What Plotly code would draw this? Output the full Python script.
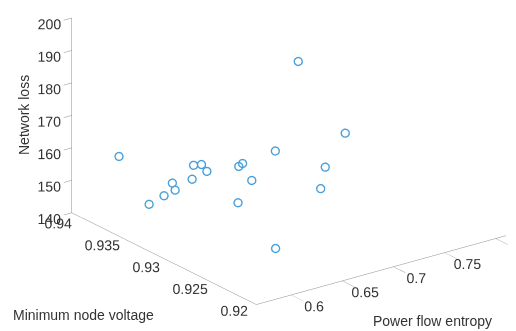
import plotly.graph_objects as go

# Data
power_flow_entropy = [0.593, 0.715, 0.736, 0.690, 0.641, 0.647, 0.654, 0.643, 0.634, 0.635,
                      0.625, 0.613, 0.668, 0.670, 0.679, 0.675, 0.701, 0.712, 0.649]
min_node_voltage = [0.9388, 0.9326, 0.9297, 0.9323, 0.9359, 0.9357, 0.9359, 0.9363, 0.9375, 0.9373,
                    0.9374, 0.9377, 0.9339, 0.9337, 0.9337, 0.9348, 0.9279, 0.9297, 0.9275]
network_loss = [158, 185, 165, 160, 155, 155, 152, 150, 148, 146,
                145, 143, 155, 156, 150, 142, 160, 150, 140]

x_ticks = [0.6, 0.65, 0.7, 0.75, 0.8]
x_labels = ["0.6", "0.65", "0.7", "0.75", "0.8"]
y_ticks = [0.92, 0.925, 0.93, 0.935, 0.94]
y_labels = ["0.92", "0.925", "0.93", "0.935", "0.94"]
z_ticks = [140, 150, 160, 170, 180, 190, 200]
z_labels = ["140", "150", "160", "170", "180", "190", "200"]

fig = go.Figure(go.Scatter3d(
    x=power_flow_entropy, y=min_node_voltage, z=network_loss,
    mode="markers",
    marker=dict(symbol="circle-open", size=5, color="#4a9fd8",
                line=dict(width=1.2, color="#4a9fd8")),
))

font_tick = dict(family="Liberation Sans, Arial, sans-serif", size=13, color="#333333")
axis_common = dict(showbackground=False, showgrid=False, zeroline=False,
                   showline=True, linecolor="#8c8c8c", linewidth=1,
                   ticks="outside", tickwidth=1, tickangle=0,
                   tickfont=font_tick, showspikes=False, title=dict(text=""))

cx, cy, cz = -0.1107, 0.0825, -0.3035
dx, dy, dz = -0.555, -0.745, 0.3705
r = 2.0
s = 1.88

title_font = dict(family="Liberation Sans, Arial, sans-serif", size=14, color="#333333")

fig.update_layout(
    width=516, height=331,
    margin=dict(l=0, r=0, t=0, b=0),
    paper_bgcolor="white",
    showlegend=False,
    scene=dict(
        domain=dict(x=[0, 1], y=[0, 1]),
        xaxis=dict(range=[0.566, 0.81], tickvals=x_ticks, ticktext=x_labels,
                   ticklen=10, tickcolor="#8c8c8c", **axis_common),
        yaxis=dict(range=[0.92, 0.941], tickvals=y_ticks, ticktext=y_labels,
                   ticklen=20, tickcolor="rgba(0,0,0,0)", **axis_common),
        zaxis=dict(range=[140, 200], tickvals=z_ticks, ticktext=z_labels,
                   ticklen=8, tickcolor="#8c8c8c", **axis_common),
        aspectmode="manual",
        aspectratio=dict(x=1 * s, y=0.993 * s, z=0.674 * s),
        camera=dict(
            projection=dict(type="orthographic"),
            eye=dict(x=cx + dx * r, y=cy + dy * r, z=cz + dz * r),
            center=dict(x=cx, y=cy, z=cz),
            up=dict(x=0, y=0, z=1),
        ),
    ),
    annotations=[
        dict(text="Network loss", x=16 / 516, y=1 - 107 / 331, xref="paper", yref="paper",
             xanchor="center", yanchor="middle", textangle=-90, showarrow=False, font=title_font),
        dict(text="Minimum node voltage", x=75 / 516, y=1 - 307 / 331, xref="paper", yref="paper",
             xanchor="center", yanchor="middle", showarrow=False, font=title_font),
        dict(text="Power flow entropy", x=424 / 516, y=1 - 313 / 331, xref="paper", yref="paper",
             xanchor="center", yanchor="middle", showarrow=False, font=title_font),
    ],
)

fig.write_html("out.html")
